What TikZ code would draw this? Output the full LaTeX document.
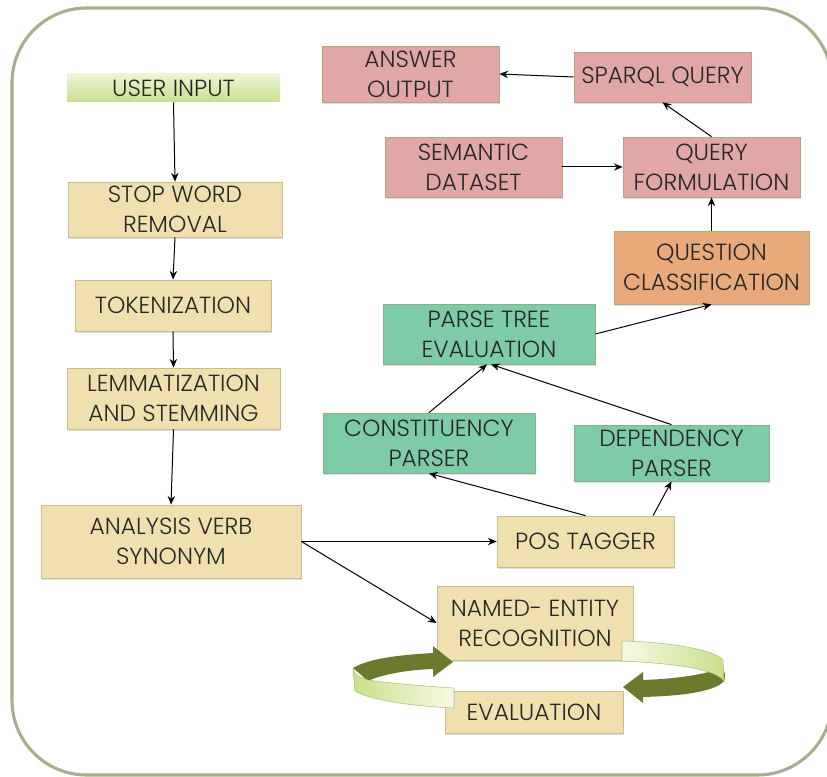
\documentclass[tikz,border=0pt]{standalone}
\usepackage{fontspec}
\IfFontExistsTF{Poppins Light}{\setmainfont{Poppins Light}}{\setmainfont{Poppins}}
\usepackage{tikz}
\usetikzlibrary{arrows.meta,positioning,shadows}
\definecolor{beige}{RGB}{240,224,176}
\definecolor{beigeline}{RGB}{200,190,140}
\definecolor{rosepink}{RGB}{225,167,165}
\definecolor{roseline}{RGB}{185,160,135}
\definecolor{mintgreen}{RGB}{126,203,168}
\definecolor{mintline}{RGB}{140,175,135}
\definecolor{peach}{RGB}{232,170,122}
\definecolor{peachline}{RGB}{195,165,125}
\definecolor{framegray}{RGB}{168,174,140}
\definecolor{olive}{RGB}{107,122,46}
\definecolor{limelight}{RGB}{247,250,230}
\definecolor{limedark}{RGB}{202,224,138}
\definecolor{usertop}{RGB}{238,244,214}
\definecolor{userbot}{RGB}{200,224,140}

\begin{document}
\begin{tikzpicture}[
  x=0.75pt, y=-0.75pt,
  every node/.style={font=\fontsize{17.5}{22.5}\selectfont, text=black!85, align=center, inner sep=0pt},
  shadowed/.style={drop shadow={shadow xshift=1pt, shadow yshift=-1.2pt, opacity=0.25}},
  stagebox/.style={draw=beigeline, fill=beige, line width=0.6pt, shadowed},
  querybox/.style={draw=roseline, fill=rosepink, line width=0.6pt, shadowed},
  parsebox/.style={draw=mintline, fill=mintgreen, line width=0.6pt, shadowed},
  classbox/.style={draw=peachline, fill=peach, line width=0.6pt, shadowed},
  msg/.style={-{Stealth[length=6.5pt, width=5.5pt]}, line width=0.75pt}
]
  \useasboundingbox (0,0) rectangle (827,777);
  \clip (0,0) rectangle (827,777);

  % Outer frame
  \draw[framegray, line width=2.3pt, rounded corners=56pt] (12,8) rectangle (832,775);

  % Left column (preprocessing)
  \node[top color=usertop, bottom color=userbot, minimum width=159.75pt, minimum height=21pt] (user) at (173.5,88) {USER INPUT};
  \node[stagebox, minimum width=160.5pt, minimum height=41.25pt] (stop) at (175,209.5) {STOP WORD\\REMOVAL};
  \node[stagebox, minimum width=147pt, minimum height=38.25pt] (tok) at (173,305.5) {TOKENIZATION};
  \node[stagebox, minimum width=159.75pt, minimum height=45.75pt] (lemma) at (173.5,398.5) {LEMMATIZATION\\AND STEMMING};
  \node[stagebox, minimum width=195pt, minimum height=54.75pt] (analysis) at (171,541.5) {ANALYSIS VERB\\SYNONYM};

  % Tagging and entities
  \node[stagebox, minimum width=132.75pt, minimum height=38.25pt] (pos) at (585.5,541.5) {POS TAGGER};
  \node[stagebox, minimum width=147pt, minimum height=55.5pt] (ner) at (535,623) {NAMED- ENTITY\\RECOGNITION};
  \node[stagebox, minimum width=133.5pt, minimum height=31.5pt] (eval) at (534,712) {EVALUATION};

  % Parsing
  \node[parsebox, minimum width=159pt, minimum height=45pt] (const) at (429,443) {CONSTITUENCY\\PARSER};
  \node[parsebox, minimum width=146.25pt, minimum height=42pt] (dep) at (671.5,453) {DEPENDENCY\\PARSER};
  \node[parsebox, minimum width=159pt, minimum height=45pt] (parse) at (489,334) {PARSE TREE\\EVALUATION};
  \node[classbox, minimum width=146.25pt, minimum height=54.75pt] (question) at (711.5,267.5) {QUESTION\\CLASSIFICATION};

  % Query side
  \node[querybox, minimum width=132.75pt, minimum height=45pt] (qf) at (711.5,167) {QUERY\\FORMULATION};
  \node[querybox, minimum width=132.75pt, minimum height=45pt] (semantic) at (473.5,167) {SEMANTIC\\DATASET};
  \node[querybox, minimum width=132.75pt, minimum height=37.5pt] (sparql) at (662.5,77) {SPARQL QUERY};
  \node[querybox, minimum width=132.75pt, minimum height=42pt] (answer) at (410.5,74) {ANSWER\\OUTPUT};

  % Connectors
  \draw[msg] (user.south) -- (stop.north);
  \draw[msg] (stop.south) -- (tok.north);
  \draw[msg] (tok.south) -- (lemma.north);
  \draw[msg] (lemma.south) -- (analysis.north);
  \draw[msg] (analysis.east) -- (pos.west);
  \draw[msg] (analysis.east) -- (ner.west);
  \draw[msg] (pos.north) -- (const.south);
  \draw[msg] ([xshift=-16pt]pos.north east) -- (dep.south);
  \draw[msg] (const.north) -- ([xshift=-1.5pt]parse.south);
  \draw[msg] (dep.north) -- ([xshift=1.5pt]parse.south);
  \draw[msg] (parse.east) -- (question.south);
  \draw[msg] (question.north) -- (qf.south);
  \draw[msg] (semantic.east) -- (qf.west);
  \draw[msg] (qf.north) -- (sparql.south);
  \draw[msg] (sparql.west) -- (answer.east);

  % Cycle ribbon, right half
  \fill[olive] (722,668) .. controls (700,676) and (670,679) .. (643,680) -- (643,672) -- (623,687) -- (643,703) -- (643,697)
    .. controls (680,696) and (715,692) .. (724,681) .. controls (726,676) and (725,671) .. (722,668) -- cycle;
  \shade[left color=limelight, right color=limedark, draw=limedark!85!black, line width=0.4pt]
    (622,641) .. controls (670,642) and (715,650) .. (723,660) -- (724,681)
    .. controls (718,672) and (690,664) .. (622,661) -- cycle;

  % Cycle ribbon, left half
  \fill[olive] (353,668) .. controls (370,658) and (400,655) .. (433,653) -- (433,646) -- (453,662) -- (433,677) -- (433,669)
    .. controls (405,670) and (380,675) .. (368,681) -- cycle;
  \shade[left color=limedark, right color=limelight, draw=limedark!85!black, line width=0.4pt]
    (454,688) .. controls (420,686) and (380,682) .. (368,680) .. controls (358,677) and (353,673) .. (353,668)
    -- (355,691) .. controls (370,700) and (410,706) .. (454,708) -- cycle;
\end{tikzpicture}
\end{document}
